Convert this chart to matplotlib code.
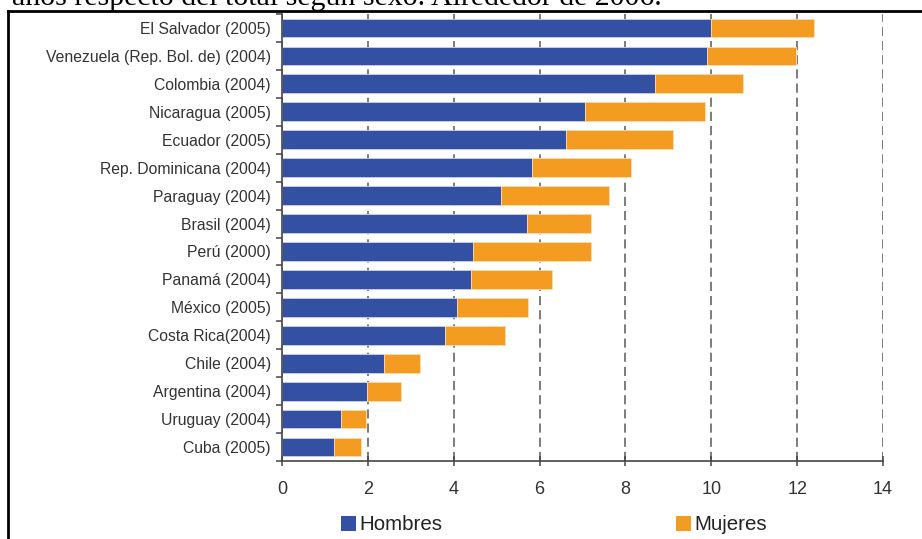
import matplotlib
matplotlib.use("Agg")
import matplotlib.pyplot as plt
from matplotlib.patches import Patch
from matplotlib.lines import Line2D
import numpy as np

# Datos por pais (porcentaje), de arriba hacia abajo
paises = ["El Salvador (2005)", "Venezuela (Rep. Bol. de) (2004)", "Colombia (2004)",
          "Nicaragua (2005)", "Ecuador (2005)", "Rep. Dominicana (2004)",
          "Paraguay (2004)", "Brasil (2004)", "Perú (2000)", "Panamá (2004)",
          "México (2005)", "Costa Rica(2004)", "Chile (2004)", "Argentina (2004)",
          "Uruguay (2004)", "Cuba (2005)"]
hombres = [10.0, 9.9, 8.7, 7.05, 6.62, 5.83, 5.1, 5.7, 4.46, 4.41, 4.08, 3.8, 2.37, 1.97, 1.37, 1.2]
mujeres = [2.4, 2.07, 2.04, 2.8, 2.48, 2.29, 2.52, 1.5, 2.74, 1.87, 1.66, 1.4, 0.84, 0.81, 0.59, 0.63]
xticks = [0, 2, 4, 6, 8, 10, 12, 14]

azul = "#3450a3"
naranja = "#f49b22"

plt.rcParams["font.family"] = ["Liberation Sans", "DejaVu Sans"]

fig = plt.figure(figsize=(9.22, 5.39), dpi=100)
ax = fig.add_axes([282 / 922, 1 - 461 / 539, (883 - 282) / 922, (461 - 14) / 539])

y = np.arange(len(paises))
ax.barh(y, hombres, height=0.67, color=azul, edgecolor="#c9d0ea", linewidth=0.6, zorder=2)
ax.barh(y, mujeres, left=hombres, height=0.67, color=naranja, edgecolor="#fcdcae",
        linewidth=0.6, zorder=2)

ax.set_xlim(0, 14)
ax.set_ylim(len(paises) - 0.5, -0.5)
ax.set_xticks(xticks)
ax.set_xticklabels([str(v) for v in xticks], fontsize=13, color="#333333")
ax.set_yticks(y)
ax.set_yticklabels(paises, fontsize=11.3, color="#333333")
ax.set_yticks(np.arange(len(paises) + 1) - 0.5, minor=True)

ax.tick_params(axis="y", which="major", length=0, pad=8)
ax.tick_params(axis="y", which="minor", length=4, width=1.1, color="#444444", direction="out")
ax.tick_params(axis="x", length=7, width=1.1, color="#444444", direction="inout", pad=11)

ax.set_axisbelow(True)
ax.grid(axis="x", linestyle=(0, (5.5, 3)), color="#666666", linewidth=1.2)
ax.grid(axis="y", visible=False)

for s in ["top", "right"]:
    ax.spines[s].set_visible(False)
for s in ["left", "bottom"]:
    ax.spines[s].set_color("#444444")
    ax.spines[s].set_linewidth(1.2)

# Leyenda inferior
handles = [Patch(facecolor=azul, label="Hombres"), Patch(facecolor=naranja, label="Mujeres")]
fig.legend(handles=handles, ncol=2, loc="center", bbox_to_anchor=(554 / 922, 1 - 525 / 539),
           frameon=False, fontsize=14.8, handlelength=0.72, handleheight=0.72,
           handletextpad=0.15, columnspacing=11.4, labelcolor="#222222")

# Marco del recuadro
fig.add_artist(Line2D([8 / 922, 1], [1 - 11 / 539, 1 - 11 / 539], color="black", linewidth=2,
                      transform=fig.transFigure))
fig.add_artist(Line2D([8 / 922, 8 / 922], [0, 1 - 11 / 539], color="black", linewidth=2,
                      transform=fig.transFigure))

# Titulo (cortado por el borde superior)
fig.text(12 / 922, 1 - 5 / 539, "años respecto del total según sexo. Alrededor de 2006.",
         fontsize=21.5, family=["Liberation Serif", "DejaVu Serif"], color="black",
         ha="left", va="baseline")

fig.savefig("out.png", dpi=100)
